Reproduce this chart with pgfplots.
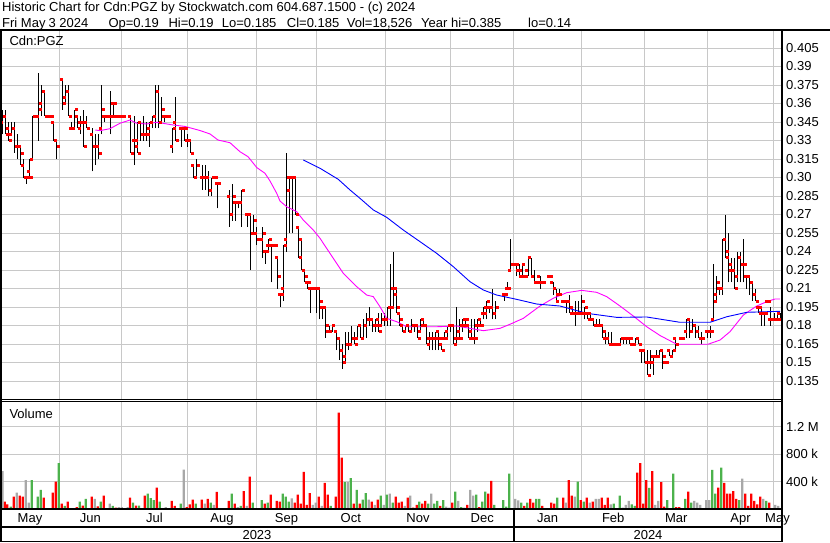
\documentclass[border=0pt]{standalone}
\usepackage{fontspec}
\setmainfont{Liberation Sans}
\usepackage{pgfplots}
\usepackage{pgfplotstable}
\pgfplotsset{compat=1.18}
\definecolor{gridgray}{RGB}{200,200,200}
\definecolor{vgreen}{RGB}{76,178,76}
\definecolor{vred}{RGB}{255,0,0}
\definecolor{vgray}{RGB}{168,168,168}
\definecolor{magma}{RGB}{255,0,255}
\definecolor{mablue}{RGB}{0,0,255}
\newcommand\chartfont{\fontsize{13}{15}\selectfont}

\pgfplotstableread{
x o h l c
3 .345 .355 .335 .35
5.5 .35 .355 .335 .335
8.5 .34 .345 .33 .33
11.5 .335 .345 .335 .34
14.5 .34 .345 .32 .325
17.5 .325 .335 .315 .325
20.5 .325 .325 .31 .32
23.5 .31 .315 .30 .30
26.5 .30 .30 .295 .30
29.5 .305 .315 .30 .30
32.5 .315 .35 .315 .35
38.5 .35 .385 .33 .355
41.5 .36 .375 .35 .37
44.5 .37 .37 .35 .35
47.5 .35 .35 .35 .35
50.5 .35 .35 .35 .35
53.5 .345 .345 .33 .33
56.5 .33 .33 .315 .325
62.3 .38 .38 .355 .36
65.3 .365 .375 .36 .37
68.3 .37 .375 .35 .35
71.3 .34 .345 .34 .34
74.3 .34 .355 .34 .355
77.3 .35 .35 .34 .34
80.3 .345 .35 .335 .345
83.3 .345 .355 .325 .325
86.3 .345 .35 .34 .34
92.3 .335 .34 .305 .325
95.3 .325 .335 .31 .325
98.3 .325 .335 .315 .32
101.3 .34 .375 .335 .355
104.3 .35 .35 .345 .35
110.3 .35 .37 .335 .35
113.3 .36 .36 .35 .36
116.3 .35 .35 .35 .35
119.3 .35 .35 .35 .35
122.3 .35 .35 .35 .35
130.3 .35 .35 .32 .32
134.3 .33 .35 .31 .325
137.3 .33 .345 .32 .32
140.3 .345 .345 .33 .335
143.3 .335 .35 .33 .335
146.3 .335 .345 .33 .34
149.3 .335 .345 .325 .345
152.3 .345 .35 .34 .35
155.3 .35 .375 .34 .37
158.3 .37 .375 .34 .345
161.3 .345 .365 .345 .355
164.3 .35 .35 .345 .35
167.3 .35 .35 .35 .35
172.7 .325 .34 .32 .34
175.7 .345 .365 .33 .33
181.7 .34 .34 .325 .34
184.7 .34 .34 .33 .34
187.5 .33 .335 .325 .33
190.7 .33 .33 .32 .32
193.3 .31 .31 .30 .30
196.3 .30 .315 .30 .31
202.3 .30 .31 .29 .30
205.3 .30 .31 .29 .30
208.3 .30 .305 .285 .29
211.3 .29 .30 .285 .30
214.3 .30 .30 .30 .30
217.3 .295 .295 .275 .295
229.3 .285 .29 .26 .27
232.3 .27 .295 .265 .285
235.3 .28 .28 .265 .28
238.3 .28 .28 .275 .28
241.3 .28 .29 .26 .29
247.3 .27 .27 .26 .27
250.3 .27 .27 .225 .255
253.3 .255 .27 .255 .265
256.3 .255 .26 .245 .25
262.3 .25 .26 .235 .255
265.3 .24 .24 .23 .24
268.3 .245 .25 .24 .25
271.3 .245 .245 .215 .245
274.3 .245 .245 .245 .245
277.3 .235 .235 .21 .22
280.7 .205 .205 .195 .205
283.3 .21 .245 .20 .245
286.3 .25 .32 .24 .29
289.3 .30 .30 .255 .30
292.7 .30 .30 .255 .30
295.7 .30 .30 .27 .27
298.7 .26 .26 .235 .235
301.7 .25 .25 .225 .225
304.7 .225 .225 .215 .22
307.7 .215 .215 .21 .215
310.7 .21 .21 .19 .21
316.3 .21 .21 .19 .21
319.5 .21 .21 .185 .20
322.3 .195 .195 .185 .195
325.3 .195 .195 .17 .18
329 .175 .18 .175 .175
332 .175 .18 .175 .18
336.7 .175 .175 .16 .17
339.7 .17 .17 .152 .16
342.7 .16 .165 .145 .15
345.7 .155 .175 .15 .165
348.7 .165 .175 .16 .165
351.7 .165 .18 .165 .17
354.7 .17 .175 .165 .165
357.7 .17 .18 .17 .18
360.7 .18 .18 .17 .17
363.7 .17 .185 .17 .18
366.7 .18 .19 .17 .185
369.7 .185 .195 .18 .185
372.7 .185 .185 .175 .18
375.7 .18 .185 .175 .18
378.7 .185 .19 .175 .175
381.7 .18 .19 .18 .185
384.7 .185 .19 .18 .185
387.7 .185 .195 .18 .195
390.3 .195 .23 .18 .195
393.3 .21 .24 .195 .21
396.3 .205 .21 .19 .195
399.3 .19 .19 .18 .185
402.3 .18 .18 .175 .175
405.3 .175 .18 .175 .18
408.3 .18 .18 .175 .175
411.7 .175 .185 .175 .18
414.7 .18 .18 .175 .18
417.7 .18 .18 .17 .17
420.7 .175 .185 .175 .185
423.7 .18 .185 .18 .18
426.7 .18 .18 .165 .165
429.7 .17 .175 .16 .17
432.7 .17 .175 .16 .17
435.7 .17 .175 .16 .175
438.7 .17 .175 .16 .17
441.7 .165 .165 .16 .16
444.7 .17 .175 .17 .17
447.7 .175 .18 .17 .18
450.7 .18 .18 .175 .18
453.7 .18 .18 .165 .165
456.7 .17 .195 .165 .17
459.7 .175 .185 .17 .17
462.7 .18 .185 .175 .18
465.7 .185 .185 .18 .185
468.7 .18 .18 .17 .17
471.7 .175 .185 .17 .17
474.7 .17 .185 .165 .17
477.7 .18 .185 .175 .185
480.7 .18 .185 .18 .18
483.7 .19 .195 .185 .19
486.7 .195 .20 .185 .20
489.7 .195 .195 .19 .195
492.7 .195 .21 .185 .19
495.7 .19 .20 .185 .195
504.5 .205 .205 .20 .205
507.5 .21 .215 .21 .21
510.3 .225 .25 .225 .23
516 .23 .23 .22 .225
519 .23 .23 .22 .22
522 .225 .23 .22 .23
525 .22 .22 .22 .22
528 .225 .235 .22 .235
531 .235 .235 .22 .22
534 .22 .225 .215 .215
537 .215 .215 .215 .215
540 .22 .22 .21 .215
543 .215 .215 .215 .215
550 .22 .22 .22 .22
553 .215 .215 .205 .21
556 .21 .21 .20 .20
559 .205 .21 .205 .205
563.3 .20 .20 .20 .20
566.3 .20 .20 .19 .20
569.3 .20 .205 .19 .195
572.3 .19 .195 .19 .19
575.3 .19 .20 .18 .19
578.3 .19 .20 .19 .19
581.3 .19 .205 .19 .20
584.3 .19 .195 .185 .195
587.3 .19 .19 .185 .19
590.3 .185 .19 .185 .185
593.3 .185 .185 .18 .18
596.3 .18 .185 .18 .18
599.3 .18 .185 .18 .18
602.3 .18 .18 .17 .17
605.3 .175 .175 .165 .17
608.3 .17 .175 .165 .165
611.3 .165 .175 .165 .165
615 .165 .165 .165 .165
620.7 .165 .17 .165 .17
623.7 .17 .17 .165 .17
626.7 .17 .17 .165 .17
629.7 .17 .17 .165 .17
632.7 .165 .165 .165 .165
635.7 .165 .17 .165 .17
638.7 .17 .17 .165 .165
641.7 .16 .16 .15 .16
644.7 .16 .16 .15 .15
647.7 .15 .16 .14 .14
650.7 .15 .16 .145 .15
653.7 .155 .155 .14 .155
656.7 .155 .16 .155 .155
659.7 .155 .16 .155 .16
662.7 .16 .16 .145 .155
665.7 .15 .15 .15 .15
669.5 .16 .16 .155 .155
672.5 .155 .16 .155 .16
675.5 .17 .17 .16 .165
681.5 .17 .17 .17 .17
686.7 .175 .185 .17 .185
689.7 .185 .185 .17 .175
692.7 .175 .185 .175 .18
695.7 .18 .18 .17 .175
698.7 .175 .18 .17 .17
701.7 .17 .175 .165 .17
707.7 .175 .175 .17 .175
710.7 .175 .18 .17 .175
713.7 .185 .23 .185 .20
716.7 .205 .22 .20 .215
719.7 .21 .21 .205 .21
722.7 .21 .25 .205 .25
725.7 .25 .27 .235 .235
728.7 .24 .255 .215 .23
731.7 .225 .235 .215 .225
734.7 .225 .235 .21 .21
737.7 .22 .24 .215 .235
740.7 .235 .24 .215 .23
743.3 .23 .25 .215 .23
746.7 .22 .22 .21 .22
749.7 .22 .22 .205 .215
752.7 .215 .215 .20 .205
755.7 .205 .21 .20 .20
758.7 .195 .195 .19 .195
761.7 .19 .195 .18 .19
764.7 .19 .19 .18 .19
767.5 .20 .20 .20 .20
770.7 .185 .195 .18 .185
774.5 .185 .19 .185 .185
777.5 .185 .19 .185 .185
780 .19 .19 .185 .185
}\ohlc

\begin{document}
\begin{tikzpicture}[x=1pt,y=1pt]
\path[use as bounding box] (0,0) rectangle (830,543);
% ---------------- price panel
\begin{axis}[
  at={(1pt,143pt)}, anchor=south west, scale only axis,
  width=781pt, height=369.5pt,
  xmin=1, xmax=782, ymin=0.1196, ymax=0.4192,
  xtick={59.3,121.3,187.7,256.3,316.7,385,450.7,513.7,581.7,644.7,707.7,773.3},
  xticklabels={},
  ytick={0.135,0.15,0.165,0.18,0.195,0.21,0.225,0.24,0.255,0.27,0.285,0.30,0.315,0.33,0.345,0.36,0.375,0.39,0.405},
  yticklabels={0.135,0.15,0.165,0.18,0.195,0.21,0.225,0.24,0.255,0.27,0.285,0.30,0.315,0.33,0.345,0.36,0.375,0.39,0.405},
  yticklabel pos=right,
  xmajorgrids, ymajorgrids,
  grid style={gridgray, line width=1pt},
  major tick length=0pt, tick style={draw=none},
  axis line style={black, line width=1pt},
  tick label style={font=\chartfont},
  yticklabel style={anchor=west, inner sep=0pt, xshift=4pt},
]
\addplot[draw=none, mark=none, error bars/.cd, y dir=plus, y explicit, error mark=none,
  error bar style={draw=black, solid, line width=1pt}]
  table[x=x, y=l, y error expr=\thisrow{h}-\thisrow{l}] {\ohlc};
\addplot[only marks, mark=square*, mark size=1pt, vred, mark options={xshift=-1.5pt, draw=none, fill=vred}]
  table[x=x, y=o] {\ohlc};
\addplot[only marks, mark=square*, mark size=1pt, vred, mark options={xshift=1.5pt, draw=none, fill=vred}]
  table[x=x, y=c] {\ohlc};
% moving averages
\addplot[magma, line width=0.9pt, mark=none] coordinates {
(95.3,0.3385)(100,0.3380)(110,0.3396)(120,0.3440)(130,0.3466)(136.7,0.3440)(146.7,0.3434)(156.7,0.3448)
(173,0.3426)(185,0.3414)(200,0.3381)(210,0.3353)(218,0.3304)(230,0.3282)(240,0.3209)(248,0.3169)
(256.7,0.3081)(265,0.3034)(270,0.2972)(276.7,0.2872)(280,0.2809)(286.7,0.2763)(296.7,0.2723)
(303.3,0.2655)(313.3,0.2574)(320,0.2507)(330,0.2385)(343.3,0.2223)(356.7,0.2115)(366.7,0.2047)
(373.3,0.2034)(380,0.1952)(386.7,0.1858)(396.7,0.1831)(406.7,0.1790)(436.7,0.1790)(456.7,0.1796)
(470,0.1777)(483.3,0.1758)(500,0.1777)(510,0.1810)(523.3,0.1858)(540,0.1958)(553.3,0.2021)
(566.7,0.2066)(581.7,0.2085)(596.7,0.2069)(606.7,0.2034)(620,0.1958)(633.3,0.1877)(646.7,0.1790)
(660,0.1719)(676.7,0.1648)(708,0.1648)(720,0.1682)(730,0.1750)(743.3,0.1885)(756.7,0.1958)
(766.7,0.1993)(775,0.2015)(780,0.2015)};
\addplot[mablue, line width=0.9pt, mark=none] coordinates {
(303.3,0.3142)(320,0.3075)(338.3,0.2985)(350,0.2899)(360,0.2831)(373.3,0.2737)(386.7,0.2677)
(403.3,0.2574)(420,0.2480)(436.7,0.2385)(453.3,0.2277)(470,0.2155)(483.3,0.2088)(496.7,0.2047)
(516.7,0.2012)(536.7,0.1974)(560,0.1958)(586.7,0.1899)(616.7,0.1866)(646.7,0.1869)(680,0.1826)
(710,0.1826)(726.7,0.1871)(746.7,0.1907)(780,0.1915)};
\end{axis}
% ---------------- volume panel
\begin{axis}[
  at={(1pt,33.7pt)}, anchor=south west, scale only axis,
  width=781pt, height=107.3pt,
  xmin=1, xmax=782, ymin=0, ymax=1561,
  xtick={59.3,121.3,187.7,256.3,316.7,385,450.7,513.7,581.7,644.7,707.7,773.3},
  xticklabels={},
  ytick={400,800,1200}, yticklabels={400 k,800 k,1.2 M},
  yticklabel pos=right,
  xmajorgrids, ymajorgrids,
  grid style={gridgray, line width=1pt},
  major tick length=0pt, tick style={draw=none},
  axis line style={black, line width=1pt},
  tick label style={font=\chartfont},
  yticklabel style={anchor=west, inner sep=0pt, xshift=4pt},
]
\addplot[ybar, bar width=2.2, bar shift=0pt, fill=vgreen, draw=none] coordinates {
(10.7,38)(31.7,426)(37.7,184)(40.7,281)(58.7,673)(64.7,48)(79.7,111)(85.7,150)(100.7,111)(112.7,48)
(133,96)(139,53)(147.7,227)(150.7,164)(153.7,135)(159.7,111)(180.7,82)(195.7,82)(210.7,96)(231.7,227)
(240.7,48)(252.7,96)(261.7,135)(267.7,96)(282.7,227)(285.7,184)(288.7,111)(330.7,48)(344.7,397)(350.7,455)
(356.7,281)(362.7,140)(365.7,237)(380.7,198)(386.7,213)(392.7,96)(419.3,111)(428.3,82)(434.3,82)(437.3,121)
(443.3,135)(455.3,256)(461.3,33)(476.3,213)(482.3,111)(485.3,256)(494.3,63)(503.3,135)(506.3,38)(509.3,518)
(521.3,96)(527.3,96)(536.3,150)(539.3,150)(548.3,14)(557.3,169)(577.7,402)(583.7,111)(613.7,82)(619.7,198)
(631.7,72)(634.7,48)(649.3,310)(667.3,135)(673.3,518)(685.3,150)(691.3,96)(712.3,572)(715.3,227)(721.3,606)
(739.3,135)(766.3,121)};
\addplot[ybar, bar width=2.2, bar shift=0pt, fill=vred, draw=none] coordinates {
(4.7,111)(7.3,72)(13.7,184)(19.7,198)(22.7,184)(43.7,169)(52.7,242)(55.7,402)(61.7,82)(67.7,111)
(70.7,14)(73.7,14)(76.7,33)(82.7,53)(91.7,184)(97.7,43)(103.7,198)(115.7,24)(130,169)(136,53)
(144.7,198)(156.7,315)(171.7,121)(174.7,48)(186.7,33)(189.7,72)(192.7,140)(201.7,140)(207.7,150)(216.7,252)
(228.7,121)(234.7,82)(243.7,266)(249.7,475)(255.7,14)(264.7,82)(270.7,213)(276.7,121)(279.7,111)(294.7,96)
(297.7,213)(300.7,82)(303.7,543)(306.7,63)(309.7,237)(318.7,184)(324.7,383)(327.7,213)(335.7,184)(338.7,1405)
(341.7,751)(353.7,82)(359.7,82)(371.7,111)(377.7,140)(395.7,184)(398.7,96)(401.7,111)(407.7,169)(413.3,24)
(416.7,63)(422.3,82)(425.3,121)(440.3,48)(452.3,96)(467.3,63)(479.3,33)(488.3,227)(491.3,412)(524.3,48)
(530.3,150)(533.3,96)(542.3,48)(551.3,96)(554.3,82)(563.3,169)(568.7,426)(571.7,198)(580.7,135)(586.7,169)
(592.7,111)(601.7,169)(604.7,63)(607.7,169)(637.3,533)(640.3,673)(643.3,82)(646.3,426)(652.3,557)(661.3,397)
(664.3,38)(670.3,14)(676.3,33)(679.3,33)(688.3,256)(718.3,315)(724.3,383)(727.3,227)(730.3,227)(733.3,266)
(736.3,150)(745.3,227)(748.3,48)(751.3,227)(754.3,121)(757.3,72)(760.3,184)(769.3,96)};
\addplot[ybar, bar width=2.2, bar shift=0pt, fill=vgray, draw=none] coordinates {
(2.5,557)(16.7,242)(25.7,426)(28.7,96)(46.7,14)(49.7,14)(94.7,150)(109.7,82)(118.7,33)(121.7,33)
(127.7,33)(162.7,14)(165.7,33)(183.7,576)(204.7,82)(213.7,63)(237.7,33)(246.7,48)(291.7,160)(312.7,63)
(315.7,96)(321.7,48)(347.7,397)(368.7,140)(374.7,63)(383.7,63)(389.7,227)(404.7,48)(410.3,198)(431.3,227)
(446.3,38)(449.3,24)(458.3,121)(464.3,24)(470.3,281)(473.3,198)(515.3,150)(518.3,130)(545.3,14)(560.3,14)
(565.7,96)(574.7,184)(589.7,96)(595.7,150)(598.7,150)(610.7,72)(622.7,24)(625.7,63)(628.7,121)(655.3,63)
(658.3,121)(694.3,121)(697.3,96)(700.3,63)(706.3,135)(709.3,135)(742.3,446)(763.3,150)(775.3,63)(778.3,48)};
\end{axis}
% ---------------- frame lines
\draw[black, line width=2pt] (0,513) -- (830,513);
\draw[black, line width=1.8pt] (0.9,513) -- (0.9,0.8);
\draw[black, line width=1.8pt] (782,513) -- (782,0.8);
\draw[black, line width=2pt] (0,33.5) -- (782,33.5);
\draw[black, line width=1.7pt] (0,16) -- (782,16);
\draw[black, line width=1.8pt] (0,1.4) -- (782,1.4);
\draw[black, line width=1.8pt] (513.7,33.5) -- (513.7,1.4);
% ---------------- texts
\node[anchor=base west, inner sep=0pt] at (2,531.3) {\chartfont Historic Chart for Cdn:PGZ by Stockwatch.com 604.687.1500 - (c) 2024};
\node[anchor=base west, inner sep=0pt] at (2,515.7) {\chartfont Fri May};
\node[anchor=base west, inner sep=0pt] at (48.3,515.7) {\chartfont 3 2024};
\node[anchor=base west, inner sep=0pt] at (108.3,515.7) {\chartfont Op=0.19};
\node[anchor=base west, inner sep=0pt] at (168.3,515.7) {\chartfont Hi=0.19};
\node[anchor=base west, inner sep=0pt] at (221.7,515.7) {\chartfont Lo=0.185};
\node[anchor=base west, inner sep=0pt] at (286.7,515.7) {\chartfont Cl=0.185};
\node[anchor=base west, inner sep=0pt] at (346.7,515.7) {\chartfont Vol=18,526};
\node[anchor=base west, inner sep=0pt] at (421,515.7) {\chartfont Year hi=0.385};
\node[anchor=base west, inner sep=0pt] at (528,515.7) {\chartfont lo=0.14};
\node[anchor=base west, inner sep=0pt] at (9.3,497.3) {\chartfont Cdn:PGZ};
\node[anchor=base west, inner sep=0pt] at (9.3,124.7) {\chartfont Volume};
% months
\foreach \cx/\m in {30/May,90.3/Jun,154.5/Jul,222/Aug,286.5/Sep,350.8/Oct,418/Nov,482.2/Dec,547.7/Jan,613.2/Feb,676.2/Mar,740.5/Apr,777.5/May}
  \node[anchor=base, inner sep=0pt] at (\cx,20.2) {\chartfont \m};
\node[anchor=base, inner sep=0pt] at (257,3.8) {\chartfont 2023};
\node[anchor=base, inner sep=0pt] at (648,3.8) {\chartfont 2024};
\end{tikzpicture}
\end{document}
